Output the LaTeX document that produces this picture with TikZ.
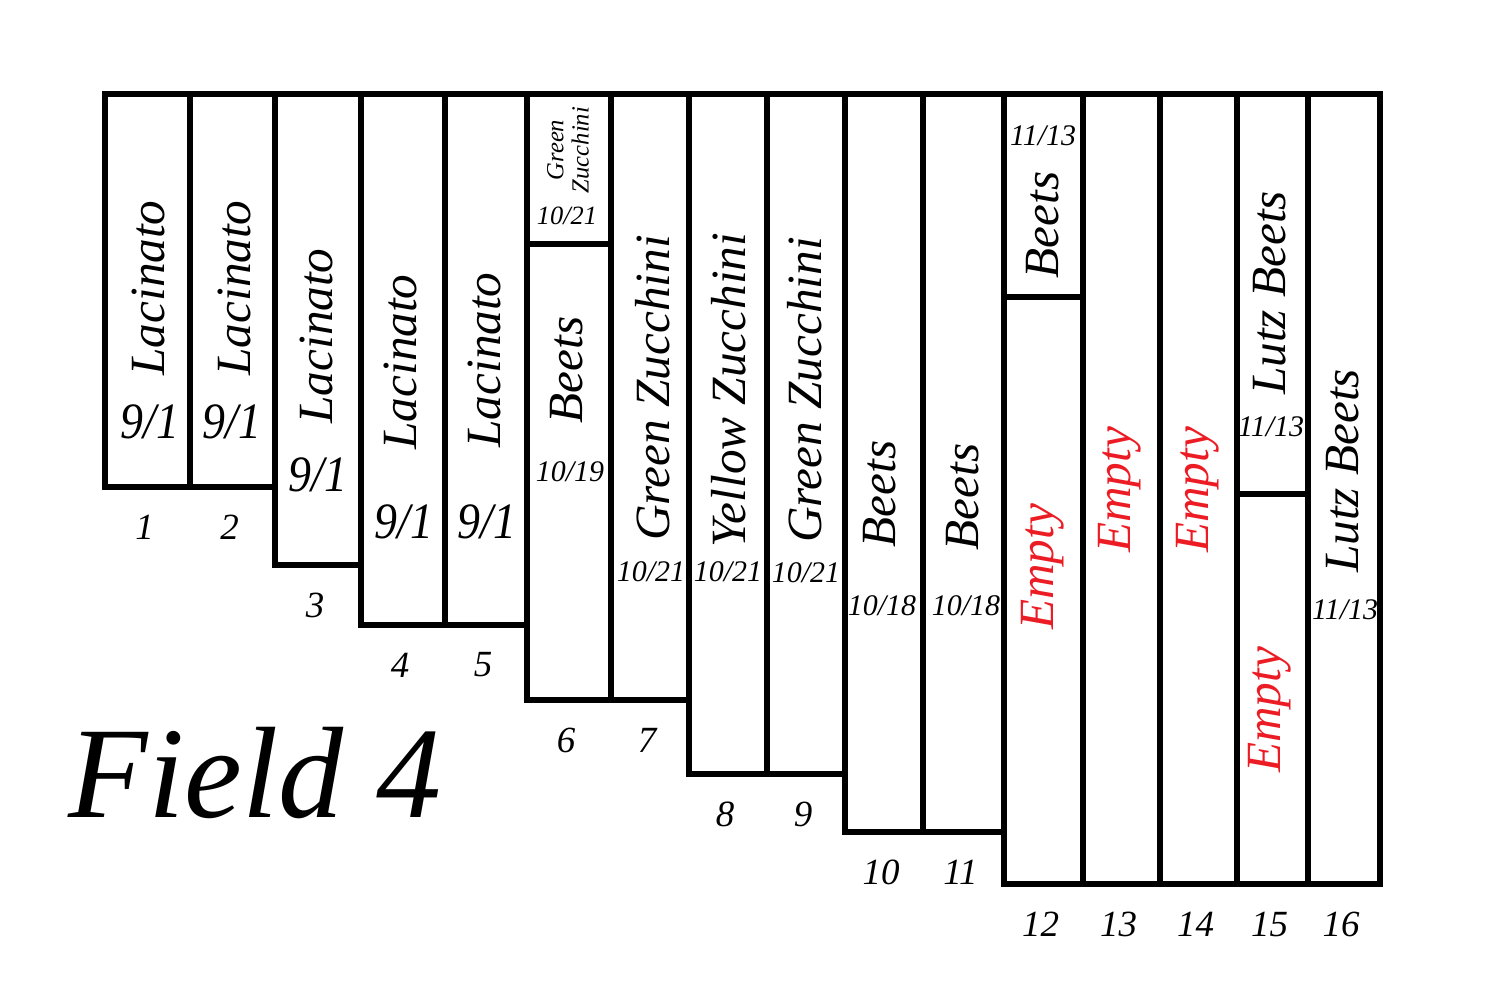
\documentclass[tikz,border=0pt]{standalone}
\usepackage{fontspec}
\setmainfont{Liberation Serif}
\usetikzlibrary{positioning}
\definecolor{emptyred}{RGB}{236,28,36}
\tikzset{
  bed/.style={draw, line width=1.5pt, line join=miter},
  crop/.style={font=\itshape\fontsize{14}{14}\selectfont, rotate=90, inner sep=0pt},
  bare/.style={crop, text=emptyred},
  sown/.style={font=\itshape\fontsize{14.5}{14.5}\selectfont, xscale=0.9, inner sep=0pt},
  sowsm/.style={font=\itshape\fontsize{8.5}{8.5}\selectfont, inner sep=0pt},
  bednum/.style={font=\itshape\fontsize{10.5}{10.5}\selectfont, inner sep=0pt},
  title/.style={font=\itshape\fontsize{37}{37}\selectfont, inner sep=0pt}
}

\begin{document}
\begin{tikzpicture}[x=0.01cm, y=-0.01cm]
\useasboundingbox (0,0) rectangle (1500,997);
% beds: left/right/bottom
\foreach \l/\r/\b [count=\n] in {105/190/487, 190/275/487, 275/361/565, 361/445/625,
  445/527/625, 527/611/700, 611/689/700, 689/767/774, 767/845/774, 845/923/832,
  923/1004/832, 1004/1083/884, 1083/1160/884, 1160/1237/884, 1237/1308/884, 1308/1380/884}
{
  \draw[bed] (\l,94) rectangle (\r,\b);
  \node[bednum] (num\n) at ({(\l+\r)/2-3}, {\b+40}) {\n};
}
% split beds
\draw[bed] (527,244) -- (611,244);
\draw[bed] (1004,297) -- (1083,297);
\draw[bed] (1237,494) -- (1308,494);

% 1-5
\node[crop] (c1) at (148,288) {Lacinato};
\node[sown] (d1) at (150,422) {9/1};
\node[crop] (c2) at (234,288) {Lacinato};
\node[sown] (d2) at (232,422) {9/1};
\node[crop] (c3) at (316,336) {Lacinato};
\node[sown] (d3) at (318,475) {9/1};
\node[crop] (c4) at (400,362) {Lacinato};
\node[sown] (d4) at (404,522) {9/1};
\node[crop] (c5) at (484,360) {Lacinato};
\node[sown] (d5) at (487,522) {9/1};

% 6-9
\node[crop, font=\itshape\fontsize{7}{7.2}\selectfont, align=center] (c6a) at (568,150) {Green\\Zucchini};
\node[sowsm, font=\itshape\fontsize{7.5}{7.5}\selectfont] (d6a) at (567,216) {10/21};
\node[crop] (c6) at (567,370) {Beets};
\node[sowsm] (d6) at (570,472) {10/19};
\node[crop] (c7) at (653,388) {Green Zucchini};
\node[sowsm] (d7) at (651,572) {10/21};
\node[crop] (c8) at (729,390) {Yellow Zucchini};
\node[sowsm] (d8) at (728,572) {10/21};
\node[crop] (c9) at (805,390) {Green Zucchini};
\node[sowsm] (d9) at (806,573) {10/21};

% 10-16
\node[crop] (c10) at (880,494) {Beets};
\node[sowsm] (d10) at (882,606) {10/18};
\node[crop] (c11) at (963,497) {Beets};
\node[sowsm] (d11) at (966,606) {10/18};
\node[sowsm] (d12a) at (1043,136) {11/13};
\node[crop] (c12a) at (1043,225) {Beets};
\node[bare] (c12) at (1043,567) {Empty};
\node[bare] (c13) at (1120,490) {Empty};
\node[bare] (c14) at (1198,490) {Empty};
\node[crop] (c15a) at (1270,293) {Lutz Beets};
\node[sowsm] (d15a) at (1271,427) {11/13};
\node[bare] (c15) at (1270,710) {Empty};
\node[crop] (c16) at (1343,471) {Lutz Beets};
\node[sowsm] (d16) at (1345,610) {11/13};

\node[title] (field) at (255,773) {Field 4};
\end{tikzpicture}
\end{document}
